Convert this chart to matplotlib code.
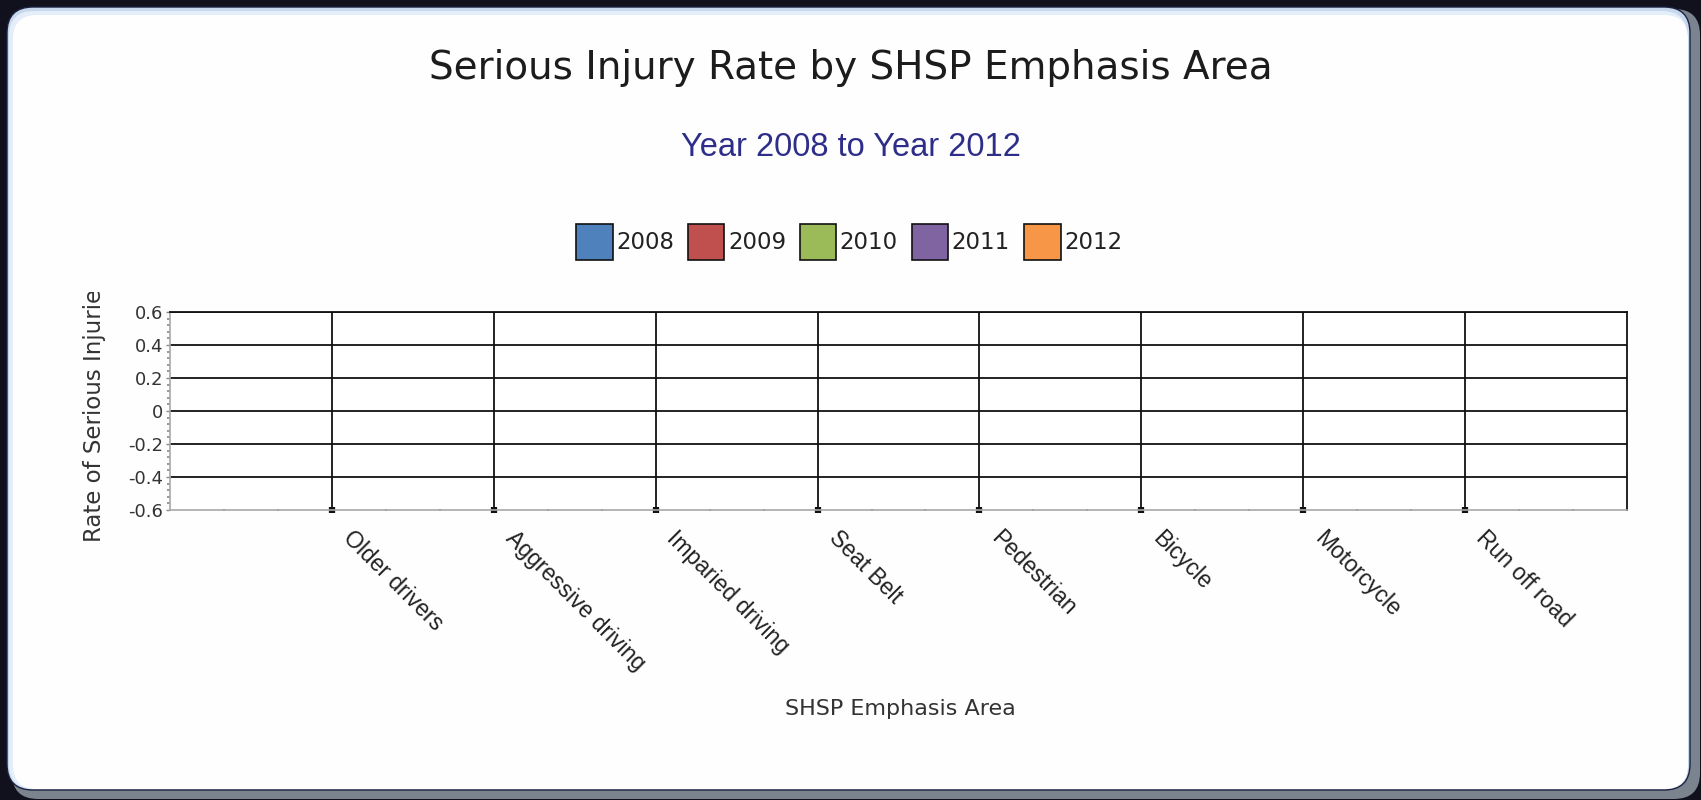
import matplotlib
matplotlib.use('Agg')
import matplotlib.pyplot as plt
import numpy as np
from matplotlib.patches import FancyBboxPatch, Patch
from matplotlib.ticker import MultipleLocator, FixedLocator, NullFormatter
from matplotlib.transforms import IdentityTransform, Bbox, TransformedBbox, ScaledTranslation

areas = ['Older drivers', 'Aggressive driving', 'Imparied driving', 'Seat Belt',
         'Pedestrian', 'Bicycle', 'Motorcycle', 'Run off road']
years = ['2008', '2009', '2010', '2011', '2012']
colors = ['#4f81bd', '#c0504d', '#9bbb59', '#8064a2', '#f79646']
# no rates reported for any area in this period
rates = {
    '2008': [0, 0, 0, 0, 0, 0, 0, 0],
    '2009': [0, 0, 0, 0, 0, 0, 0, 0],
    '2010': [0, 0, 0, 0, 0, 0, 0, 0],
    '2011': [0, 0, 0, 0, 0, 0, 0, 0],
    '2012': [0, 0, 0, 0, 0, 0, 0, 0],
}
yticks = [-0.6, -0.4, -0.2, 0, 0.2, 0.4, 0.6]
ytick_labels = ['-0.6', '-0.4', '-0.2', '0', '0.2', '0.4', '0.6']

W, H = 1701, 800
fig = plt.figure(figsize=(W / 100, H / 100), dpi=100, facecolor='#10111c')

# panel frame: grey shadow, light blue rim, white face
px = IdentityTransform()
fig.add_artist(FancyBboxPatch((12, 1), 1688, 790, boxstyle='round,pad=0,rounding_size=26',
                              transform=px, facecolor='#7b838e', edgecolor='none', zorder=-10))
fig.add_artist(FancyBboxPatch((7, 10), 1683, 783, boxstyle='round,pad=0,rounding_size=26',
                              transform=px, facecolor='#c8d8ec', edgecolor='#1b2240', lw=1, zorder=-9))
fig.add_artist(FancyBboxPatch((9, 11), 1678, 778, boxstyle='round,pad=0,rounding_size=25',
                              transform=px, facecolor='#e4eef8', edgecolor='none', zorder=-8))
fig.add_artist(FancyBboxPatch((13, 11), 1675, 774, boxstyle='round,pad=0,rounding_size=24',
                              transform=px, facecolor='#fefefe', edgecolor='none', zorder=-7))

ax = fig.add_axes([170 / W, 290 / H, 1457 / W, 198 / H])
ax.set_facecolor('white')

x = np.arange(1, len(areas) + 1)
bw = 0.16
for i, yr in enumerate(years):
    ax.bar(x + (i - 2) * bw, rates[yr], width=bw, color=colors[i], linewidth=0)

ax.set_xlim(0, 9)
ax.set_ylim(-0.6, 0.6)
ax.set_yticks(yticks)
ax.set_yticklabels(ytick_labels)
ax.yaxis.set_minor_locator(MultipleLocator(0.04))
ax.set_xticks(x)
ax.xaxis.set_minor_locator(FixedLocator([v / 3 for v in range(1, 27) if v % 3]))
ax.xaxis.set_minor_formatter(NullFormatter())

for yv in yticks[1:]:
    ax.axhline(yv, color='#111111', lw=1.3, zorder=1)
for xv in x:
    ax.axvline(xv, color='#111111', lw=1.3, zorder=1)

for s in ['top', 'right']:
    ax.spines[s].set_color('#111111')
    ax.spines[s].set_linewidth(1.3)
for s in ['left', 'bottom']:
    ax.spines[s].set_color('#a8a8a8')
    ax.spines[s].set_linewidth(1.2)

ax.tick_params(axis='y', which='major', length=3, width=1, color='#888888',
               labelsize=13, labelcolor='#333333', pad=2)
ax.tick_params(axis='y', which='minor', length=2, width=1.2, color='#888888')
ax.tick_params(axis='x', which='major', length=5, width=4.5, color='#111111', direction='inout')
ax.tick_params(axis='x', which='minor', length=2, width=1.5, color='#999999', direction='inout')

ax.set_xticklabels(areas, rotation=-45, ha='left', va='top', rotation_mode='anchor',
                   fontsize=16.5, family='Liberation Sans', color='#222222')
off = ScaledTranslation(23 / 100, -8 / 100, fig.dpi_scale_trans)
for lbl in ax.get_xticklabels():
    lbl.set_transform(lbl.get_transform() + off)

fig.text(900 / W, 1 - 709 / H, 'SHSP Emphasis Area', ha='center', va='center',
         fontsize=16, color='#333333')

ylab = fig.text(94 / W, 1 - 542 / H, 'Rate of Serious Injuries', rotation=90,
                ha='center', va='bottom', fontsize=16.5, color='#333333')
ylab.set_clip_box(TransformedBbox(Bbox([[0, 0], [1, 508 / H]]), fig.transFigure))
ylab.set_clip_on(True)

fig.text(0.5, 1 - 68 / H, 'Serious Injury Rate by SHSP Emphasis Area', ha='center', va='center',
         fontsize=28, color='#1c1c1c')
fig.text(0.5, 1 - 148 / H, 'Year 2008 to Year 2012', ha='center', va='center',
         fontsize=23.5, family='Liberation Sans', color='#2e2e8a')

handles = [Patch(facecolor=c, edgecolor='#111111', lw=1.2, label=y) for c, y in zip(colors, years)]
fig.legend(handles=handles, loc='center', bbox_to_anchor=(849 / W, 1 - 242 / H), ncol=5,
           frameon=False, fontsize=16.5, handlelength=1.6, handleheight=2.0,
           handletextpad=0.15, columnspacing=0.6, labelcolor='#222222')

fig.savefig('out.png', dpi=100, facecolor=fig.get_facecolor())
